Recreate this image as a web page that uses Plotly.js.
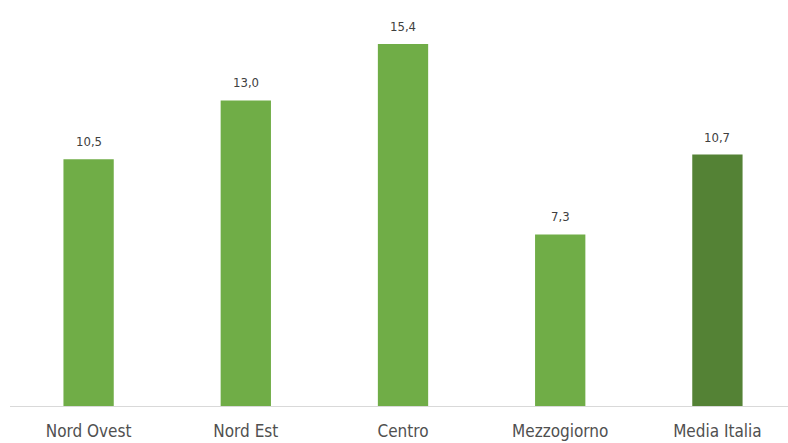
<!DOCTYPE html>
<html>
<head>
<meta charset="utf-8">
<script src="https://cdn.plot.ly/plotly-3.0.1.min.js"></script>
<style>html,body{margin:0;padding:0;background:#fff;overflow:hidden}#chart{width:788px;height:443px}</style>
</head>
<body>
<div id="chart"></div>
<script>
const categories = ["Nord Ovest", "Nord Est", "Centro", "Mezzogiorno", "Media Italia"];
const values = [10.5, 13.0, 15.4, 7.3, 10.7];
const barColors = ["#70AD47", "#70AD47", "#70AD47", "#70AD47", "#548235"];

const fmt = v => v.toFixed(1).replace('.', ',');
const narrow = '"DejaVu Sans Condensed", "Liberation Sans Narrow", "Liberation Sans", Arial, sans-serif';

const trace = {
  type: 'bar',
  x: categories,
  y: values,
  marker: {color: barColors},
  hoverinfo: 'none'
};

const annotations = categories.map((c, i) => ({
  x: c, y: values[i], xref: 'x', yref: 'y',
  text: fmt(values[i]), showarrow: false,
  yanchor: 'bottom', yshift: 8,
  font: {family: narrow, size: 13, color: '#404040'}
}));

const layout = {
  width: 788, height: 443,
  margin: {l: 10, r: 0, t: 10, b: 37},
  paper_bgcolor: '#ffffff', plot_bgcolor: '#ffffff',
  bargap: 0.68,
  showlegend: false,
  xaxis: {
    type: 'category',
    range: [-0.5, 4.449],
    showline: true, linecolor: '#d9d9d9', linewidth: 1,
    showgrid: false, zeroline: false, ticks: '',
    ticklabelstandoff: 10,
    tickfont: {family: narrow, size: 17, color: '#505050'},
    fixedrange: true
  },
  yaxis: {
    range: [0, 16.85],
    visible: false, showgrid: false, zeroline: false,
    fixedrange: true
  },
  annotations: annotations
};

Plotly.newPlot('chart', [trace], layout, {displayModeBar: false, staticPlot: true});
</script>
</body>
</html>
